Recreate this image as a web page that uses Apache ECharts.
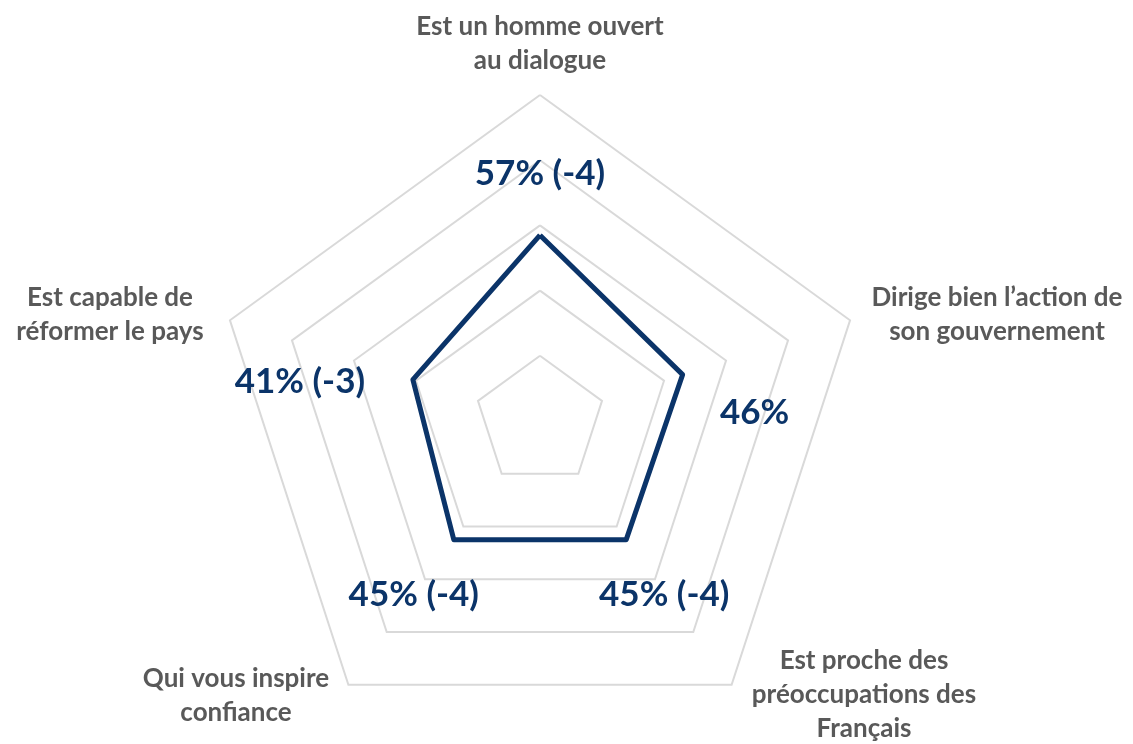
<!DOCTYPE html>
<html>
<head>
<meta charset="utf-8">
<script src="https://cdn.jsdelivr.net/npm/echarts@6/dist/echarts.min.js"></script>
<style>
  html, body { margin: 0; padding: 0; background: #fff; }
  #chart { width: 1133px; height: 744px; }
</style>
</head>
<body>
<div id="chart"></div>
<script>
  // indicators, counterclockwise from the top (echarts radar order)
  var indicatorNames = [
    'Est un homme ouvert\nau dialogue',
    'Est capable de\nréformer le pays',
    'Qui vous inspire\nconfiance',
    'Est proche des\npréoccupations des\nFrançais',
    'Dirige bien l\u2019action de\nson gouvernement'
  ]
  var scores = [57, 41, 45, 45, 46]
  var changes = ['-4', '-3', '-4', '-4', '']

  var navy = '#0b3469'
  var grey = '#595959'
  var cx = 540, cy = 421

  // where each indicator name sits, and how far each value label is pushed from its point
  var namePos = [[540, 44], [110, 315], [236, 696], [864, 695], [997, 315]]
  var labelShift = [[0, -61], [-113, 2], [-40, 55], [38, 55], [72, 38]]

  var chart = echarts.init(document.getElementById('chart'))

  chart.setOption({
    backgroundColor: '#fff',
    textStyle: { fontFamily: 'Lato' },
    radar: {
      center: [cx, cy],
      radius: 326,
      startAngle: 90,
      splitNumber: 5,
      shape: 'polygon',
      indicator: indicatorNames.map(function (n) {
        return { name: n, min: 0, max: 100 }
      }),
      axisName: { show: false },
      axisLine: { show: false },
      axisTick: { show: false },
      axisLabel: { show: false },
      splitArea: { show: false },
      splitLine: { lineStyle: { color: '#d9d9d9', width: 2 } }
    },
    graphic: indicatorNames.map(function (n, i) {
      return {
        type: 'text',
        x: namePos[i][0],
        y: namePos[i][1],
        style: {
          text: n,
          align: 'center',
          verticalAlign: 'middle',
          fill: grey,
          font: 'bold 26px Lato',
          lineHeight: 34
        }
      }
    }),
    series: [{
      type: 'radar',
      symbol: 'circle',
      symbolSize: 1,
      itemStyle: { color: navy },
      lineStyle: { color: navy, width: 5 },
      label: {
        show: true,
        position: 'inside',
        color: navy,
        fontSize: 35,
        fontWeight: 'bold',
        fontFamily: 'Lato',
        formatter: function (p) {
          var i = scores.indexOf(p.value)
          var c = changes[i]
          return p.value + '%' + (c ? ' (' + c + ')' : '')
        }
      },
      labelLayout: function (p) {
        var px = p.rect.x + p.rect.width / 2 - cx
        var py = cy - (p.rect.y + p.rect.height / 2)
        var a = Math.atan2(py, px) * 180 / Math.PI
        var k = Math.round((((a - 90) % 360) + 360) % 360 / 72) % 5
        return { dx: labelShift[k][0], dy: labelShift[k][1] }
      },
      data: [{ value: scores, name: 'Score' }]
    }]
  })
</script>
</body>
</html>
